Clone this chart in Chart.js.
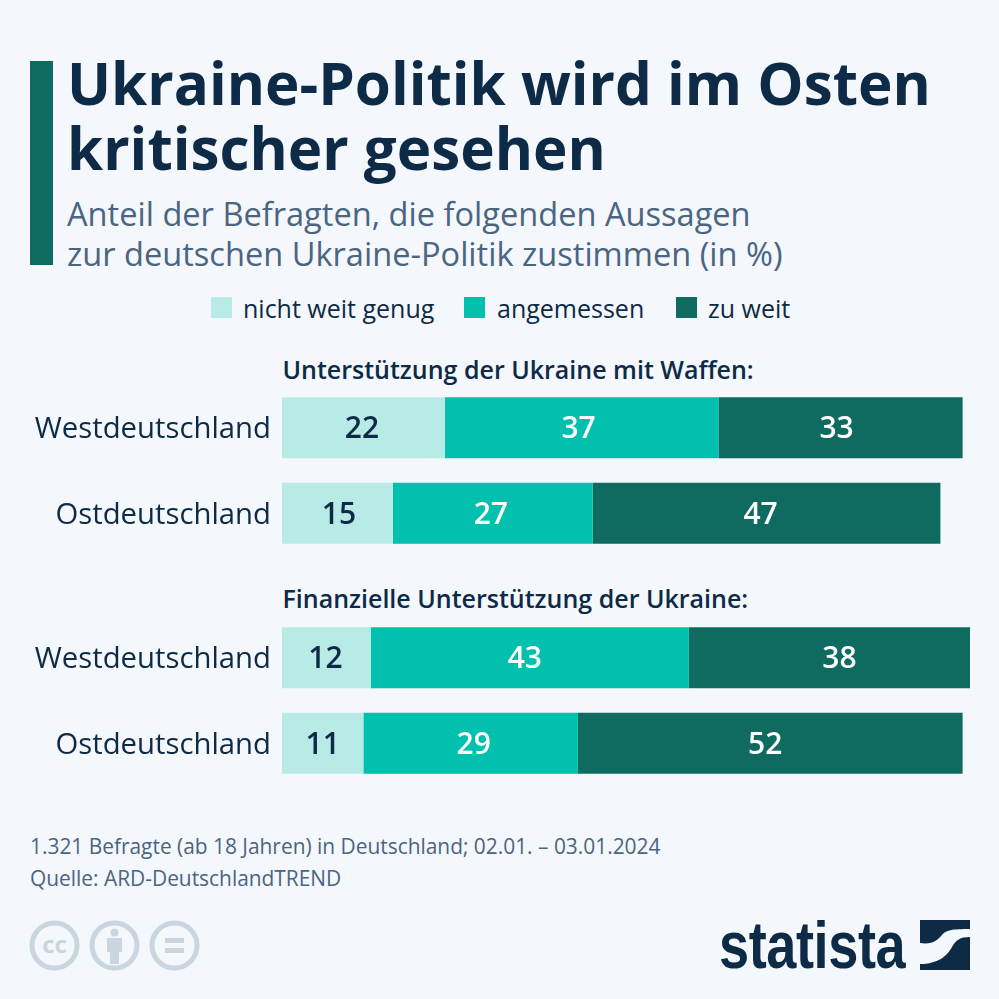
<!DOCTYPE html>
<html lang="de"><head><meta charset="utf-8">
<script src="https://cdn.jsdelivr.net/npm/chart.js@4"></script>
<style>
html,body{margin:0;padding:0;background:#f4f7fb;}
body{width:999px;height:999px;position:relative;overflow:hidden;font-family:"Open Sans",sans-serif;}
.t{position:absolute;white-space:nowrap;}
canvas{position:absolute;left:0;}
.sw{position:absolute;width:21px;height:21px;top:297px;}
</style></head><body>
<div style="position:absolute;left:30px;top:61px;width:23px;height:204px;background:#0f6b5f"></div>
<div class="t" style="left:67px;top:50px;font-size:58.300px;line-height:65px;font-weight:700;color:#0d2a47;">Ukraine-Politik wird im Osten<br>kritischer gesehen</div>
<div class="t" style="left:67px;top:194px;font-size:32.6px;line-height:40px;color:#4a6582;">Anteil der Befragten, die folgenden Aussagen<br>zur deutschen Ukraine-Politik zustimmen (in %)</div>
<div id="legend"></div>
<div class="t" id="h1" style="left:282.500px;top:353px;font-size:25px;line-height:32px;font-weight:600;color:#0d2a47"></div>
<div class="t" id="h2" style="left:282.500px;top:582px;font-size:25px;line-height:32px;font-weight:600;color:#0d2a47"></div>
<canvas id="c1" width="970" height="171" style="top:385px"></canvas>
<canvas id="c2" width="970" height="171" style="top:615px"></canvas>
<div class="t" style="left:30px;top:830px;font-size:20.900px;line-height:32px;color:#4a6582;">1.321 Befragte (ab 18 Jahren) in Deutschland; 02.01. – 03.01.2024<br>Quelle: ARD-DeutschlandTREND</div>
<svg style="position:absolute;left:29px;top:920px" width="172" height="52" viewBox="0 0 172 52">
 <g fill="none" stroke="#c9d5df" stroke-width="5">
  <circle cx="25.500" cy="25.500" r="22.500"/><circle cx="85.500" cy="25.500" r="22.500"/><circle cx="145.500" cy="25.500" r="22.500"/>
 </g>
 <text x="25.500" y="33" text-anchor="middle" font-family="Open Sans" font-weight="700" font-size="24" fill="#c9d5df">cc</text>
 <circle cx="85.500" cy="12.500" r="4" fill="#c9d5df"/>
 <path d="M78 18h15v14h-3v12h-9V32h-3z" fill="#c9d5df"/>
 <path d="M136 18h19v5h-19zM136 28h19v5h-19z" fill="#c9d5df"/>
</svg>
<div class="t" style="left:719px;top:905px;font-family:'Liberation Sans';font-size:66px;line-height:80px;font-weight:700;color:#0d2a47;transform-origin:left top;transform:scaleX(.82);letter-spacing:-.5px">statista</div>
<svg style="position:absolute;left:920px;top:920px" width="50" height="50" viewBox="0 0 50 50">
 <rect width="50" height="50" fill="#0d2a47"/>
 <path d="M0 23C12 25 18 20 22 15C26 10 32 9 50 9V17C40 17 36 20 32 27C27 36 18 44 0 44Z" fill="#f4f7fb"/>
</svg>
<script>
const legendLabels = ['nicht weit genug', 'angemessen', 'zu weit'];
const colors = ['#b8ebe6', '#01c0ae', '#0f6b5f'];
const labelColors = ['#0d2a47', '#ffffff', '#ffffff'];
const regions = ['Westdeutschland', 'Ostdeutschland'];
const heading1 = 'Unterstützung der Ukraine mit Waffen:';
const heading2 = 'Finanzielle Unterstützung der Ukraine:';
const waffenNicht = [22, 15];
const waffenAngemessen = [37, 27];
const waffenZuWeit = [33, 47];
const finanzNicht = [12, 11];
const finanzAngemessen = [43, 29];
const finanzZuWeit = [38, 52];

document.getElementById('h1').textContent = heading1;
document.getElementById('h2').textContent = heading2;

const legendX = [[211, 243], [464, 497], [676, 708]];
const lg = document.getElementById('legend');
legendLabels.forEach((s, i) => {
  const b = document.createElement('div');
  b.className = 'sw'; b.style.left = legendX[i][0] + 'px'; b.style.background = colors[i];
  const t = document.createElement('div');
  t.className = 't'; t.textContent = s;
  t.style.cssText = `left:${legendX[i][1]}px;top:291px;font-size:25px;line-height:34px;color:#0d2a47`;
  lg.append(b, t);
});

// small horizontal label shifts seen in the original layout (per series, per row)
const nudge1 = [[-1.5, 1.5], [-3, -2], [-4, -6]];
const nudge2 = [[-1, 0], [-5, 3], [10, -5]];

const valueLabels = {
  id: 'valueLabels',
  beforeDraw(chart) {
    // the category labels sit 2px below the bar centre in the original
    chart.scales.y.getLabelItems(chart.chartArea).forEach(item => {
      item.options.translation[1] += 2;
    });
  },
  afterDatasetsDraw(chart) {
    const ctx = chart.ctx;
    const nudge = chart.options.plugins.valueLabels.nudge;
    ctx.save();
    ctx.font = '600 30px "Open Sans"';
    ctx.textAlign = 'center';
    ctx.textBaseline = 'middle';
    chart.data.datasets.forEach((ds, i) => {
      chart.getDatasetMeta(i).data.forEach((el, j) => {
        const p = el.getProps(['x', 'y', 'base'], true);
        ctx.fillStyle = labelColors[i];
        ctx.fillText(String(ds.data[j]), (p.x + p.base) / 2 + nudge[i][j], p.y + 2);
      });
    });
    ctx.restore();
  }
};

function makeChart(id, a, b, c, nudge) {
  new Chart(document.getElementById(id), {
    type: 'bar',
    plugins: [valueLabels],
    data: {
      labels: regions,
      datasets: [a, b, c].map((d, i) => ({
        label: legendLabels[i], data: d, backgroundColor: colors[i],
        borderWidth: 0, barPercentage: 61 / 85.5, categoryPercentage: 1
      }))
    },
    options: {
      indexAxis: 'y', responsive: false, animation: false,
      devicePixelRatio: 1,
      layout: { padding: 0 },
      plugins: { legend: { display: false }, tooltip: { enabled: false }, valueLabels: { nudge } },
      scales: {
        x: { stacked: true, display: false, min: 0, max: 93 },
        y: {
          stacked: true,
          grid: { display: false, drawTicks: false }, border: { display: false },
          afterFit(s) { s.width = 282; s.paddingTop = 0; s.paddingBottom = 0; },
          ticks: { color: '#0d2a47', padding: 11, font: { family: 'Open Sans', size: 29.300 } }
        }
      }
    }
  });
}
makeChart('c1', waffenNicht, waffenAngemessen, waffenZuWeit, nudge1);
makeChart('c2', finanzNicht, finanzAngemessen, finanzZuWeit, nudge2);
</script>
</body></html>
